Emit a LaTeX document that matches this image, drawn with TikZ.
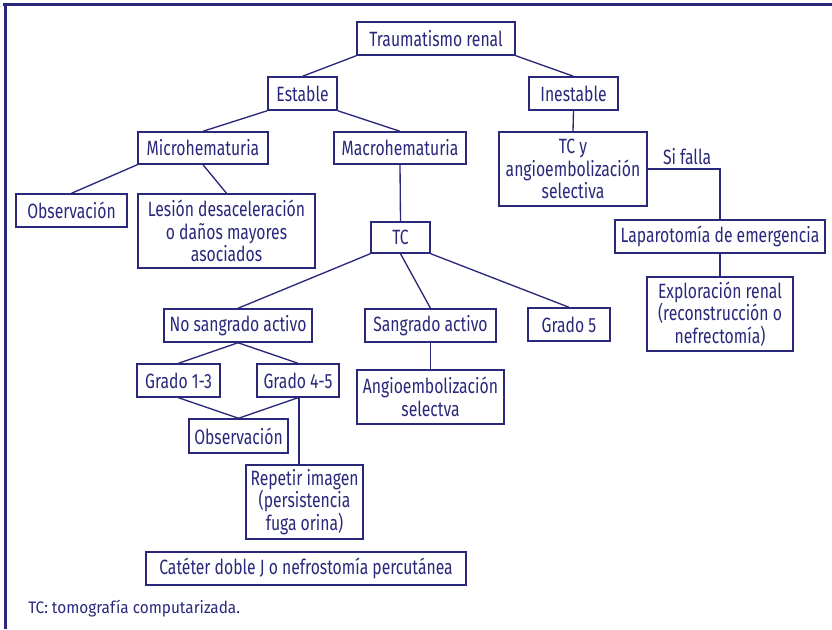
\documentclass[tikz,border=0pt]{standalone}
\usepackage{fontspec}
\setmainfont{Fira Sans}[FakeStretch=0.76]
\newfontfamily\notefont{Fira Sans}[FakeStretch=0.92]
\definecolor{navy}{RGB}{42,40,122}
\begin{document}
\begin{tikzpicture}[x=0.75pt,y=-0.75pt,
  every node/.style={text=navy},
  bx/.style={draw=navy, line width=1.1pt, inner sep=0pt, align=center,
    font=\fontsize{15.5}{17}\selectfont, minimum height=#1*0.75pt},
  bx/.default=33,
  ln/.style={draw=navy, line width=1pt}]
\useasboundingbox (0,0) rectangle (832,629);
\fill[white] (0,0) rectangle (832,629);
% frame
\draw[navy, line width=2.2pt] (3,4.5) -- (832,4.5);
\draw[navy, line width=2.2pt] (5.3,4.5) -- (5.3,629);
% nodes
\node[bx, minimum width=158*0.75pt] (trauma) at (436,38.5) {Traumatismo renal};
\node[bx, minimum width=69*0.75pt] (estable) at (302.5,93.5) {Estable};
\node[bx, minimum width=89*0.75pt] (inestable) at (573.5,93.5) {Inestable};
\node[bx=32, minimum width=130*0.75pt] (micro) at (203,148) {Microhematuria};
\node[bx=32, minimum width=132*0.75pt] (macro) at (400,148) {Macrohematuria};
\node[bx=74, minimum width=148*0.75pt] (tcangio) at (573,169) {TC y\\angioembolización\\selectiva};
\node[bx, minimum width=111*0.75pt] (obs1) at (71.5,210.5) {Observación};
\node[bx=74, minimum width=177*0.75pt] (lesion) at (226.5,231) {Lesión desaceleración\\o daños mayores\\asociados};
\node[bx=31, minimum width=59*0.75pt] (tc) at (400.5,237.5) {TC};
\node[bx, minimum width=210*0.75pt] (lapar) at (720,236.5) {Laparotomía de emergencia};
\node[bx=74, minimum width=146*0.75pt] (explor) at (720,314) {Exploración renal\\(reconstrucción o\\nefrectomía)};
\node[bx, minimum width=148*0.75pt] (nosang) at (238,325.5) {No sangrado activo};
\node[bx, minimum width=131*0.75pt] (sang) at (430.5,325.5) {Sangrado activo};
\node[bx, minimum width=82*0.75pt] (grado5) at (569,324.5) {Grado 5};
\node[bx, minimum width=83*0.75pt] (g13) at (178.5,380.5) {Grado 1-3};
\node[bx, minimum width=82*0.75pt] (g45) at (298,380.5) {Grado 4-5};
\node[bx=54, minimum width=147*0.75pt] (angio) at (430.5,397) {Angioembolización\\selectva};
\node[bx=34, minimum width=99*0.75pt] (obs2) at (238.5,436) {Observación};
\node[bx=74, minimum width=117*0.75pt] (repetir) at (304.5,502) {Repetir imagen\\(persistencia\\fuga orina)};
\node[bx, minimum width=320*0.75pt] (cateter) at (306,568.5) {Catéter doble J o nefrostomía percutánea};
\node[anchor=west, inner sep=0pt, font=\notefont\fontsize{12.5}{14}\selectfont] (note) at (28,609) {TC: tomografía computarizada.};
% connectors
\draw[ln] (trauma.south west) -- (estable.north);
\draw[ln] (trauma.south east) -- (inestable.north);
\draw[ln] (estable.south west) -- (micro.north);
\draw[ln] (estable.south east) -- (macro.north);
\draw[ln] (inestable.south) -- (tcangio.north);
\draw[ln] (micro.south west) -- (obs1.north);
\draw[ln] (micro.south) -- (lesion.north);
\draw[ln] (macro.south) -- (tc.north);
\draw[ln] (tcangio.east) -| (lapar.north);
\node[anchor=south west, inner sep=0pt, font=\fontsize{15.5}{17}\selectfont] (sifalla) at ([xshift=15*0.75pt,yshift=4*0.75pt]tcangio.east) {Si falla};
\draw[ln] (lapar.south) -- (explor.north);
\draw[ln] (tc.south west) -- (nosang.north);
\draw[ln] (tc.south) -- (sang.north);
\draw[ln] (tc.south east) -- (grado5.north);
\draw[ln] (nosang.south) -- (g13.north);
\draw[ln] (nosang.south) -- (g45.north);
\draw[ln] (sang.south) -- (angio.north);
\draw[ln] (g13.south) -- (obs2.north);
\draw[ln] (g45.south) -- (obs2.north);
\draw[ln] ([xshift=0.75pt]g45.south) -- ([xshift=0.75pt]g45.south |- repetir.north);
\end{tikzpicture}
\end{document}
